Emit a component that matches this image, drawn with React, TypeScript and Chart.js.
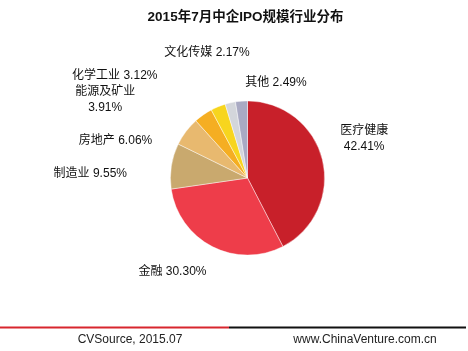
import React, { useEffect, useRef } from "react";
import { Chart, registerables } from "chart.js";

Chart.register(...registerables);

const TITLE = "2015年7月中企IPO规模行业分布";
const CATEGORIES = ["医疗健康", "金融", "制造业", "房地产", "能源及矿业", "化学工业", "文化传媒", "其他"];
const VALUES = [42.41, 30.3, 9.55, 6.06, 3.91, 3.12, 2.17, 2.49];
const COLORS = ["#C8202A", "#EE3D4A", "#C9A96E", "#E8B96F", "#F5AE22", "#F7D51E", "#D3D6DB", "#A9AAC3"];
const SOURCE = "CVSource, 2015.07";
const SITE = "www.ChinaVenture.com.cn";

// label layout: whether the label wraps to two lines, and a nudge from its arc anchor
const LABEL_WRAP = [true, false, false, false, true, false, false, false];
const LABEL_NUDGE: [number, number][] = [
  [23, -17],
  [-31, 8],
  [-62, 11],
  [-55, 21],
  [-87, 1],
  [-96, -13],
  [-19, -31],
  [36, 1],
];

const FONT = '"Liberation Sans", "Noto Sans CJK SC", sans-serif';

const labelPlugin = {
  id: "pieLabels",
  afterDraw(chart: any) {
    const ctx = chart.ctx;
    const meta = chart.getDatasetMeta(0);
    ctx.save();
    ctx.textAlign = "center";
    ctx.textBaseline = "middle";
    // title
    ctx.fillStyle = "#111";
    ctx.font = `bold 13.5px ${FONT}`;
    ctx.fillText(TITLE, 245.5, 17.5);
    ctx.font = `12px ${FONT}`;
    meta.data.forEach((arc: any, i: number) => {
      const { x, y, startAngle, endAngle, outerRadius } = arc.getProps(
        ["x", "y", "startAngle", "endAngle", "outerRadius"],
        true
      );
      const mid = (startAngle + endAngle) / 2;
      const ax = x + Math.cos(mid) * outerRadius * 1.25 + LABEL_NUDGE[i][0];
      const ay = y + Math.sin(mid) * outerRadius * 1.25 + LABEL_NUDGE[i][1];
      const pct = VALUES[i].toFixed(2) + "%";
      if (LABEL_WRAP[i]) {
        ctx.fillText(CATEGORIES[i], ax, ay - 8);
        ctx.fillText(pct, ax, ay + 8);
      } else {
        ctx.fillText(CATEGORIES[i] + " " + pct, ax, ay);
      }
    });
    // footer
    const w = chart.width;
    const ly = 327.5;
    ctx.lineWidth = 2;
    ctx.strokeStyle = "#D8262E";
    ctx.beginPath();
    ctx.moveTo(0, ly);
    ctx.lineTo(229, ly);
    ctx.stroke();
    ctx.strokeStyle = "#111";
    ctx.beginPath();
    ctx.moveTo(229, ly);
    ctx.lineTo(w - 2, ly);
    ctx.stroke();
    ctx.fillStyle = "#222";
    ctx.font = `12px ${FONT}`;
    ctx.fillText(SOURCE, 130, 339.5);
    ctx.fillText(SITE, 365, 339.5);
    ctx.restore();
  },
};

export default function App() {
  const ref = useRef<HTMLCanvasElement | null>(null);
  useEffect(() => {
    if (!ref.current) return;
    const chart = new Chart(ref.current, {
      type: "pie",
      data: {
        labels: CATEGORIES,
        datasets: [
          {
            data: VALUES,
            backgroundColor: COLORS,
            borderColor: "rgba(255,255,255,0.55)",
            borderWidth: 0.8,
          },
        ],
      },
      options: {
        animation: false,
        responsive: true,
        maintainAspectRatio: false,
        layout: { padding: { left: 170, right: 143, top: 100.5, bottom: 95.5 } },
        plugins: {
          legend: { display: false },
          tooltip: { enabled: false },
          title: { display: false },
        },
      },
      plugins: [labelPlugin],
    });
    return () => chart.destroy();
  }, []);
  return (
    <div style={{ position: "fixed", left: 0, top: 0, width: 468, height: 351, background: "#fff" }}>
      <canvas ref={ref} />
    </div>
  );
}
